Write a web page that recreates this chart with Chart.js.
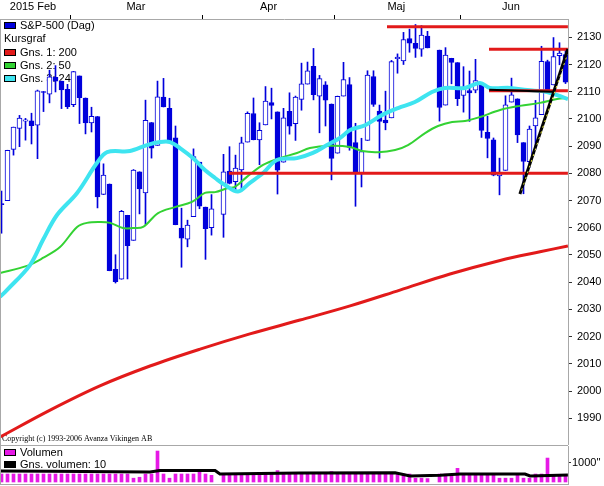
<!DOCTYPE html>
<html>
<head>
<meta charset="utf-8">
<script src="https://cdn.jsdelivr.net/npm/chart.js@4.4.1/dist/chart.umd.min.js"></script>
<style>
  html, body { margin: 0; padding: 0; background: #fff; }
  #wrap { position: relative; width: 604px; height: 486px; overflow: hidden; }
  #main { position: absolute; left: 0; top: 0; }
  #vol { position: absolute; left: 0; top: 445px; }
</style>
</head>
<body>
<div id="wrap">
  <canvas id="main" width="604" height="445"></canvas>
  <canvas id="vol" width="604" height="41"></canvas>
</div>
<script>
// daily slots, holidays kept as empty slots (null)
const dates = ['02-11','02-12','02-13','02-17','02-18','02-19','02-20','02-23','02-24','02-25','02-26','02-27',
  '03-02','03-03','03-04','03-05','03-06','03-09','03-10','03-11','03-12','03-13','03-16','03-17','03-18','03-19','03-20',
  '03-23','03-24','03-25','03-26','03-27','03-30','03-31',
  '04-01','04-02','04-03','04-06','04-07','04-08','04-09','04-10','04-13','04-14','04-15','04-16','04-17',
  '04-20','04-21','04-22','04-23','04-24','04-27','04-28','04-29','04-30',
  '05-01','05-04','05-05','05-06','05-07','05-08','05-11','05-12','05-13','05-14','05-15','05-18','05-19','05-20','05-21','05-22',
  '05-25','05-26','05-27','05-28','05-29',
  '06-01','06-02','06-03','06-04','06-05','06-08','06-09','06-10','06-11','06-12','06-15','06-16','06-17','06-18','06-19',
  '06-22','06-23','06-24'];

const open = [2068.6,2070.0,2088.8,2096.5,2099.2,2099.3,2097.7,2109.8,2109.1,2115.3,2113.9,2110.9,
  2105.2,2115.8,2107.7,2098.5,2100.9,2072.3,2076.1,2044.7,2041.1,2064.6,2055.4,2080.6,2072.8,2098.7,2090.3,
  2108.0,2103.9,2093.1,2059.9,2055.8,2064.1,2084.1,
  2067.6,2060.0,null,2064.9,2080.8,2076.9,2081.3,2091.5,2102.0,2092.3,2097.8,2106.0,2102.6,
  2084.1,2102.8,2098.3,2107.2,2112.8,2119.3,2108.4,2112.5,2105.5,
  2087.4,2108.4,2112.6,2091.3,2080.0,2092.1,2115.6,2102.9,2099.6,2100.4,2122.1,2121.3,2129.5,2127.8,2125.6,2130.4,
  null,2125.3,2105.1,2122.3,2120.7,
  2108.6,2110.4,2110.6,2112.4,2095.1,2092.3,2079.1,2081.1,2106.2,2107.4,2091.3,2084.3,2097.4,2101.6,2121.1,
  2112.5,2123.2,2123.6];
const high = [2073.5,2088.5,2097.0,2101.3,2100.2,2102.1,2110.6,2110.1,2117.9,2119.6,2113.9,2112.7,
  2117.5,2115.8,2107.7,2104.3,2100.9,2083.5,2076.1,2050.1,2066.4,2064.6,2081.4,2080.6,2106.9,2098.7,2113.9,
  2114.9,2107.6,2097.4,2067.2,2062.8,2089.0,2084.1,
  2067.6,2072.2,null,2087.0,2089.8,2086.7,2093.3,2102.6,2107.7,2098.6,2111.9,2111.3,2102.6,
  2103.9,2109.6,2108.4,2120.5,2120.9,2125.9,2116.0,2113.7,2105.5,
  2108.4,2120.8,2115.2,2098.4,2092.9,2117.7,2117.7,2105.1,2110.2,2121.5,2123.9,2131.8,2133.0,2134.7,2134.3,2132.2,
  null,2125.3,2126.2,2122.3,2120.7,
  2119.2,2117.6,2121.9,2112.9,2101.0,2093.0,2085.6,2108.5,2115.0,2107.4,2091.3,2097.4,2106.8,2126.7,2121.6,
  2129.9,2128.0,2125.1];
const low = [2058.0,2070.0,2086.7,2089.8,2092.2,2090.8,2085.4,2102.7,2105.9,2109.9,2103.8,2103.8,
  2104.5,2098.3,2094.5,2095.2,2067.3,2072.2,2044.2,2039.7,2041.1,2041.2,2055.4,2065.1,2061.2,2085.6,2090.3,
  2104.4,2091.5,2061.1,2045.5,2053.0,2064.1,2067.0,
  2048.4,2057.3,null,2056.5,2076.1,2073.3,2074.3,2091.5,2092.3,2083.2,2097.8,2100.0,2072.4,
  2084.1,2094.4,2092.1,2103.2,2112.8,2107.0,2094.9,2097.4,2077.6,
  2087.4,2108.4,2088.5,2067.9,2075.0,2092.1,2104.6,2085.6,2096.0,2100.4,2116.8,2120.0,2124.5,2122.6,2123.0,2126.1,
  null,2099.2,2105.1,2112.9,2104.9,
  2102.5,2099.1,2109.6,2093.2,2085.7,2079.1,2072.1,2081.1,2106.2,2091.3,2072.5,2082.1,2088.9,2101.6,2109.5,
  2112.5,2119.9,2113.0];
const close = [2068.5,2088.5,2097.0,2100.3,2099.7,2097.5,2110.3,2109.7,2115.5,2113.9,2110.7,2104.5,
  2117.4,2107.8,2098.5,2101.0,2071.3,2079.4,2044.2,2040.2,2066.0,2053.4,2081.2,2074.3,2099.5,2089.3,2108.1,
  2104.4,2091.5,2061.1,2056.2,2061.0,2086.2,2067.9,
  2059.7,2067.0,null,2080.6,2076.3,2081.9,2091.2,2102.1,2092.4,2095.8,2106.6,2105.0,2081.2,
  2100.4,2097.3,2108.0,2112.9,2117.7,2108.9,2114.8,2106.9,2085.5,
  2108.3,2114.5,2089.5,2080.2,2088.0,2116.1,2105.3,2099.1,2098.5,2121.1,2122.7,2129.2,2127.8,2125.9,2130.8,2126.1,
  null,2104.2,2123.5,2120.8,2107.4,
  2111.7,2109.6,2114.1,2095.8,2092.8,2079.3,2080.2,2105.2,2108.9,2094.1,2084.4,2096.3,2100.4,2121.2,2110.0,
  2122.9,2124.2,2113.5];

// moving averages (slot position, value)
const ma200Pos = [-0.25, 8.1, 16.4, 24.75, 33.1, 41.4, 49.75, 58.1, 66.4, 74.75, 83.1, 89.75, 94.4];
const ma200 = [1983.1, 1993.0, 2001.9, 2009.2, 2015.4, 2021.0, 2026.1, 2031.3, 2037.1, 2043.0, 2048.0, 2051.2, 2053.3];
const ma50Pos = [-0.25, 4.25, 6.9, 9.75, 12.6, 14.25, 16.4, 18.1, 20.25, 21.9, 23.6, 26.1, 28.9, 31.75, 33.9, 35.6, 37.75,
  38.9, 40.9, 43.6, 46.4, 49.25, 51.4, 54.75, 58.1, 60.1, 62.75, 65.6, 67.75, 70.6, 72.75, 75.1, 77.25, 79.75, 83.1,
  86.4, 89.75, 92.6, 94.4];
const ma50 = [2043.4, 2046.0, 2048.9, 2052.9, 2060.3, 2061.8, 2062.1, 2061.8, 2059.9, 2059.9, 2060.3, 2065.4, 2067.6,
  2069.5, 2072.8, 2073.1, 2074.6, 2075.0, 2078.7, 2083.1, 2085.6, 2087.5, 2089.3, 2090.1, 2089.7, 2088.2, 2087.8,
  2088.6, 2090.4, 2094.8, 2097.4, 2098.9, 2099.2, 2100.7, 2103.3, 2104.8, 2105.9, 2107.3, 2107.7];
const ma24Pos = [-0.25, 0.9, 4.75, 6.9, 9.25, 12.6, 15.9, 17.6, 21.4, 24.25, 26.4, 28.1, 29.75, 31.9, 33.9, 35.6, 37.25,
  39.4, 41.4, 43.6, 45.9, 49.25, 51.9, 54.25, 56.4, 58.1, 60.6, 63.4, 66.1, 68.9, 71.75, 73.9, 77.25, 79.75, 81.4,
  84.75, 87.6, 90.9, 94.4];
const ma24 = [2034.6, 2037.1, 2046.3, 2055.5, 2064.7, 2072.8, 2083.8, 2087.8, 2088.2, 2090.4, 2091.5, 2091.5, 2089.3,
  2085.6, 2081.2, 2078.3, 2075.7, 2073.3, 2076.5, 2080.1, 2084.9, 2085.6, 2087.5, 2090.4, 2093.0, 2095.9, 2097.7,
  2101.4, 2104.0, 2106.2, 2109.9, 2111.4, 2111.4, 2113.2, 2111.4, 2111.4, 2110.6, 2109.9, 2107.3];

// drawn support / resistance lines: [from slot, to slot, level]
const hLines = [[37.9, 94.4, 2080.0], [64.25, 94.4, 2133.9], [81.25, 94.4, 2125.6], [81.25, 94.4, 2110.4]];
const blackLine = [[81.3, 2110.7], [91.9, 2110.0]];
const trendLine = [[86.4, 2072.4], [94.4, 2125.7]];
const trendMark = [[86.7, 2073.8], [94.3, 2123.6]];

const volume = [420,420,420,420,420,420,420,420,420,420,420,420,
  420,420,420,420,420,420,420,420,420,420,200,250,420,420,1630,
  420,200,420,420,420,420,600,
  420,350,null,420,420,420,420,420,420,420,420,420,600,
  420,420,420,420,420,420,420,420,550,
  420,420,420,420,420,420,420,420,420,420,420,420,420,200,200,180,
  null,420,420,420,720,
  420,420,420,420,420,420,200,200,200,420,200,200,420,420,1260,
  300,300,300];
const volAvgPos = [-0.25, 8.1, 24.75, 26.4, 35.6, 36.4, 49.75, 65.6, 68.1, 73.1, 76.4, 87.25, 88.1, 94.4];
const volAvg = [579, 560, 526, 605, 605, 421, 470, 489, 316, 353, 421, 421, 316, 368];

const monthLabels = ['2015 Feb', 'Mar', 'Apr', 'Maj', 'Jun'];
const monthLabelPos = [5.25, 22.4, 44.5, 65.8, 84.9];
const monthBounds = [11.5, 33.5, 55.5, 76.5];
const priceTicks = [1990, 2000, 2010, 2020, 2030, 2040, 2050, 2060, 2070, 2080, 2090, 2100, 2110, 2120, 2130];

const BLUE = '#0000dc', RED = '#e21a1a', GREEN = '#33d233', CYAN = '#3ee4f0', MAGENTA = '#e619e6', GRAY = '#a8a8a8';
const FONT = { family: '"Liberation Sans", Arial, sans-serif', size: 11 };

const xMin = -0.25, xMax = -0.25 + 568 / 6;

const candles = dates.map((d, i) => open[i] == null ? null : i).filter(i => i !== null);

function lineSet(points, color, width, order, extra) {
  return Object.assign({
    type: 'line', data: points, borderColor: color, borderWidth: width,
    pointRadius: 0, fill: false, order: order, tension: 0.35
  }, extra || {});
}

// no extra label padding around the plot
function noPad(s) {
  s.paddingTop = 0; s.paddingBottom = 0; s.paddingLeft = 0; s.paddingRight = 0;
}

const legendItems = [
  ['S&P-500 (Dag)', BLUE], ['Kursgraf', null], ['Gns. 1: 200', RED], ['Gns. 2: 50', GREEN], ['Gns. 3: 24', CYAN]
];

function swatch(ctx, x, y, color) {
  ctx.fillStyle = color;
  ctx.fillRect(x, y, 12, 7);
  ctx.strokeStyle = '#000';
  ctx.lineWidth = 1;
  ctx.strokeRect(x + 0.5, y + 0.5, 11, 6);
}

const mainDecor = {
  id: 'mainDecor',
  beforeDatasetsDraw(chart) {
    const { ctx, chartArea: a } = chart;
    ctx.save();
    ctx.font = '11px "Liberation Sans", Arial, sans-serif';
    ctx.textBaseline = 'middle';
    legendItems.forEach(([text, color], k) => {
      const cy = a.top + 7 + k * 13.3;
      if (color) swatch(ctx, a.left + 4, Math.round(cy) - 4, color);
      ctx.fillStyle = '#000';
      ctx.fillText(text, a.left + (color ? 20 : 4), cy);
    });
    ctx.font = '8px "Liberation Serif", "Times New Roman", serif';
    ctx.fillText('Copyright (c) 1993-2006 Avanza Vikingen AB', a.left + 2, a.bottom - 6);
    ctx.restore();
  },
  afterDraw(chart) {
    const { ctx, chartArea: a } = chart;
    ctx.save();
    ctx.strokeStyle = GRAY;
    ctx.lineWidth = 1;
    ctx.beginPath();
    ctx.moveTo(a.left + 0.5, a.top);
    ctx.lineTo(a.left + 0.5, a.bottom);
    ctx.stroke();
    ctx.restore();
  }
};

new Chart(document.getElementById('main'), {
  type: 'bar',
  data: {
    datasets: [
      {
        data: candles.map(i => ({ x: i, y: [low[i], high[i]] })),
        backgroundColor: BLUE, barThickness: 1, grouped: false, order: 20
      },
      {
        data: candles.map(i => ({ x: i, y: [open[i], close[i]] })),
        backgroundColor: c => (c.raw && close[c.raw.x] >= open[c.raw.x]) ? '#ffffff' : BLUE,
        borderColor: BLUE, borderWidth: 1, borderSkipped: false, minBarLength: 1,
        barThickness: 5, grouped: false, order: 19
      },
      lineSet(ma200Pos.map((x, k) => ({ x, y: ma200[k] })), RED, 3, 12),
      lineSet(ma50Pos.map((x, k) => ({ x, y: ma50[k] })), GREEN, 2, 11),
      lineSet(ma24Pos.map((x, k) => ({ x, y: ma24[k] })), CYAN, 4, 10),
      ...hLines.map(([a, b, v]) => lineSet([{ x: a, y: v }, { x: b, y: v }], RED, 3, 9, { tension: 0 })),
      lineSet(blackLine.map(([x, y]) => ({ x, y })), '#000', 2, 8, { tension: 0 }),
      lineSet(trendLine.map(([x, y]) => ({ x, y })), '#000', 3, 7, { tension: 0 }),
      lineSet(trendMark.map(([x, y]) => ({ x, y })), '#f0f040', 1, 6, { tension: 0, borderDash: [2, 4] })
    ]
  },
  options: {
    responsive: false,
    animation: false,
    layout: { padding: 0 },
    plugins: { legend: { display: false }, tooltip: { enabled: false } },
    scales: {
      x: {
        type: 'linear', position: 'top', min: xMin, max: xMax, offset: false,
        afterBuildTicks: s => { s.ticks = monthBounds.concat(monthLabelPos).sort((p, q) => p - q).map(v => ({ value: v })); },
        afterFit: s => { s.height = 19; noPad(s); },
        ticks: {
          autoSkip: false, maxRotation: 0, padding: 1, color: '#000', font: FONT,
          callback: v => { const k = monthLabelPos.indexOf(v); return k < 0 ? '' : monthLabels[k]; }
        },
        grid: {
          drawOnChartArea: false, tickLength: 4, offset: false,
          tickColor: c => (c.tick && monthBounds.includes(c.tick.value)) ? '#000' : 'rgba(0,0,0,0)'
        },
        border: { color: GRAY }
      },
      y: {
        type: 'linear', position: 'right', min: 1980.18, max: 2136.72,
        afterBuildTicks: s => { s.ticks = priceTicks.map(v => ({ value: v })); },
        afterFit: s => { s.width = 36; noPad(s); },
        ticks: { padding: 5, color: '#000', font: FONT, callback: v => String(v) },
        grid: { drawOnChartArea: false, tickLength: 4, tickColor: '#333' },
        border: { color: GRAY }
      }
    }
  },
  plugins: [mainDecor]
});

const volDecor = {
  id: 'volDecor',
  beforeDatasetsDraw(chart) {
    const { ctx, chartArea: a } = chart;
    ctx.save();
    ctx.font = '11px "Liberation Sans", Arial, sans-serif';
    ctx.textBaseline = 'middle';
    [['Volumen', MAGENTA], ['Gns. volumen: 10', '#000']].forEach(([text, color], k) => {
      const cy = a.top + 7 + k * 12;
      swatch(ctx, a.left + 4, Math.round(cy) - 4, color);
      ctx.fillStyle = '#000';
      ctx.fillText(text, a.left + 20, cy);
    });
    ctx.restore();
  },
  afterDraw(chart) {
    const { ctx, chartArea: a } = chart;
    ctx.save();
    ctx.strokeStyle = GRAY;
    ctx.lineWidth = 1;
    ctx.beginPath();
    ctx.moveTo(a.left, a.top - 0.5); ctx.lineTo(a.right, a.top - 0.5);
    ctx.moveTo(a.left, a.bottom + 0.5); ctx.lineTo(a.right, a.bottom + 0.5);
    ctx.moveTo(a.left + 0.5, a.top); ctx.lineTo(a.left + 0.5, a.bottom);
    ctx.stroke();
    ctx.restore();
  }
};

new Chart(document.getElementById('vol'), {
  type: 'bar',
  data: {
    datasets: [
      lineSet(volAvgPos.map((x, k) => ({ x, y: volAvg[k] })), '#000', 3, 1, { tension: 0 }),
      {
        data: volume.map((v, i) => v == null ? null : { x: i, y: v }).filter(Boolean),
        backgroundColor: MAGENTA, barThickness: 3, grouped: false, order: 2
      }
    ]
  },
  options: {
    responsive: false,
    animation: false,
    layout: { padding: { top: 1, bottom: 2 } },
    plugins: { legend: { display: false }, tooltip: { enabled: false } },
    scales: {
      x: { type: 'linear', display: false, offset: false, min: xMin, max: xMax },
      y: {
        type: 'linear', position: 'right', min: -105.3, max: 1894.7,
        afterBuildTicks: s => { s.ticks = [{ value: 1000 }]; },
        afterFit: s => { s.width = 36; noPad(s); },
        ticks: { padding: 1, color: '#000', font: FONT, callback: () => "1000''" },
        grid: { drawOnChartArea: false, tickLength: 3, tickColor: '#333' },
        border: { color: GRAY }
      }
    }
  },
  plugins: [volDecor]
});
</script>
</body>
</html>
